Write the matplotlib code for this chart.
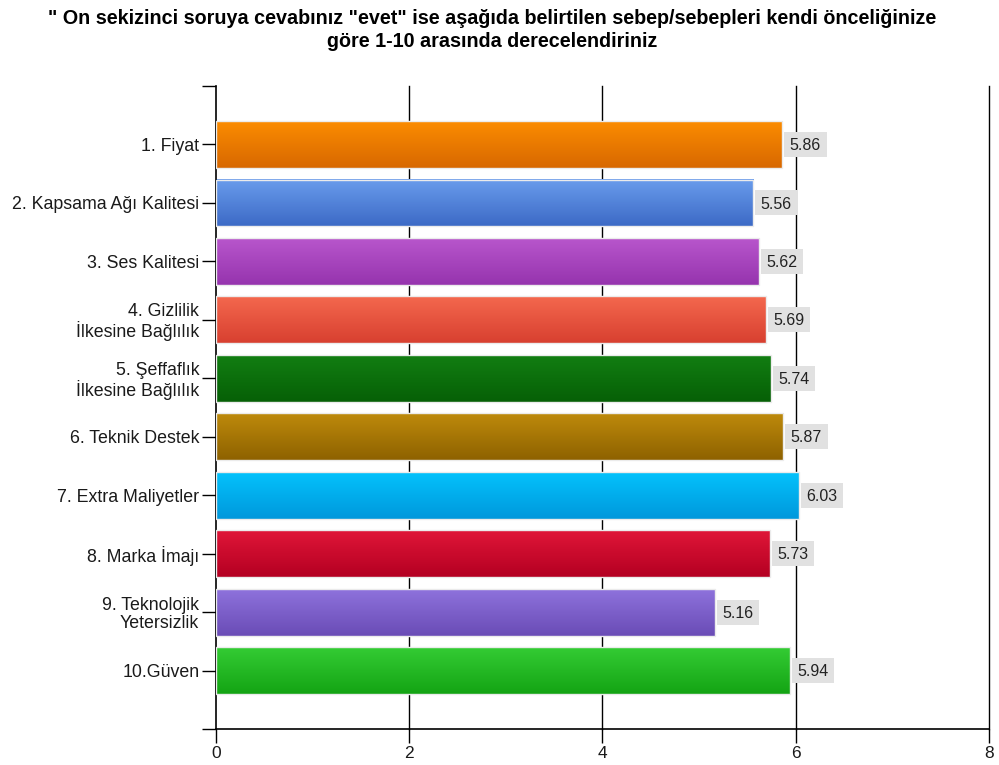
"""
tercih sebepleri - ortalama puanlar, yatay cubuk grafik
"""
import numpy as np
import matplotlib.pyplot as plt
from matplotlib.colors import to_rgb
from matplotlib.patches import Rectangle

plt.rcParams['font.family'] = ['Liberation Sans', 'DejaVu Sans']

TITLE = ('" On sekizinci soruya cevabınız "evet" ise aşağıda belirtilen sebep/sebepleri kendi önceliğinize\n'
         'göre 1-10 arasında derecelendiriniz')

categories = ["1. Fiyat", "2. Kapsama Ağı Kalitesi", "3. Ses Kalitesi",
              "4. Gizlilik\nİlkesine Bağlılık", "5. Şeffaflık\nİlkesine Bağlılık",
              "6. Teknik Destek", "7. Extra Maliyetler", "8. Marka İmajı",
              "9. Teknolojik\nYetersizlik", "10.Güven"]
values = [5.86, 5.56, 5.62, 5.69, 5.74, 5.87, 6.03, 5.73, 5.16, 5.94]
labels = ["5.86", "5.56", "5.62", "5.69", "5.74", "5.87", "6.03", "5.73", "5.16", "5.94"]

# ust ve alt renkler (dikey gecis)
top_colors = ["#fb8c00", "#6a9cec", "#b856cc", "#f4684e", "#127e12",
              "#be8a0c", "#04c2fc", "#e01638", "#8e72dc", "#34cc34"]
bottom_colors = ["#d86800", "#3c6ac6", "#9634ae", "#d84030", "#066006",
                 "#8e6200", "#0098dc", "#b40022", "#6a4cb6", "#14a414"]

fig = plt.figure(figsize=(9.99, 7.65), dpi=100)
ax = fig.add_axes([0.2162, 0.047, 0.990 - 0.2162, 0.8876 - 0.047])

h = 0.8
for i, v in enumerate(values):
    c1 = np.array(to_rgb(top_colors[i]))
    c2 = np.array(to_rgb(bottom_colors[i]))
    t = np.linspace(0, 1, 64)[:, None]
    grad = (c1 * (1 - t) + c2 * t)[:, None, :]
    ax.imshow(grad, extent=[0, v, i + h / 2, i - h / 2], aspect='auto',
              interpolation='bilinear', zorder=2)
    ax.barh(i, v, height=h, facecolor='none', edgecolor='#ebebeb',
            linewidth=1.0, zorder=3)
    # deger etiketi: gri kutu
    ax.add_patch(Rectangle((v + 0.02, i - 0.215), 0.44, 0.43,
                           facecolor='#e1e1e1', edgecolor='none', zorder=4))
    ax.text(v + 0.24, i + 0.02, labels[i], ha='center', va='center',
            fontsize=11.5, color='#222222', zorder=5)

ax.set_xlim(0, 8)
ax.set_ylim(10, -1)

# dikey izgara cizgileri
for x in [2, 4, 6, 8]:
    ax.axvline(x, color='black', linewidth=1.0, zorder=1, clip_on=False)

ax.set_xticks([0, 2, 4, 6, 8])
ax.set_xticklabels(["0", "2", "4", "6", "8"], fontsize=12.5)
ax.set_yticks(list(range(-1, 11)))
ax.set_yticklabels([""] + categories + [""], fontsize=12.8, linespacing=1.05)
ax.tick_params(axis='both', length=10, width=1.0, color='black',
               labelcolor='#1a1a1a')
ax.tick_params(axis='x', pad=2)
ax.tick_params(axis='y', pad=2)

for s in ['top', 'right']:
    ax.spines[s].set_visible(False)
for s in ['left', 'bottom']:
    ax.spines[s].set_linewidth(1.2)

fig.text(0.493, 0.988, TITLE, ha='center', va='top', fontsize=14.2,
         fontweight='bold', linespacing=1.25)

fig.savefig("out.png", dpi=100)
